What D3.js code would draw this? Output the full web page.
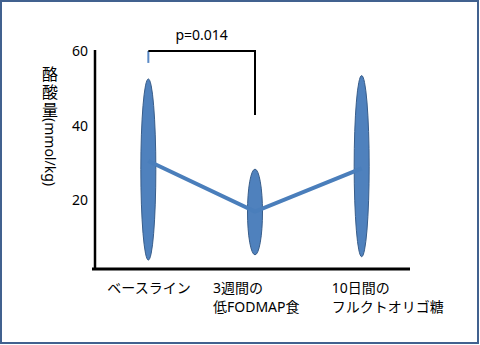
<!DOCTYPE html>
<html>
<head>
<meta charset="utf-8">
<script src="https://cdnjs.cloudflare.com/ajax/libs/d3/7.8.5/d3.min.js"></script>
<style>
body { margin: 0; background: #fff; }
text { font-family: "Noto Sans", "Noto Sans CJK JP", sans-serif; fill: #000; }
</style>
</head>
<body>
<script>
var w = 480;
var h = 345;

// data (mmol/kg)
var categories = ["base", "lowfodmap", "fos"];
var catLabels = [["ベースライン"], ["3週間の", "低FODMAP食"], ["10日間の", "フルクトオリゴ糖"]];
var means = [30.5, 16.9, 28.5];
var highs = [52.5, 28.3, 53.4];
var lows = [3.9, 5.3, 4.8];
var yTicks = [20, 40, 60];
var pLabel = "p=0.014";
var yTitleCjk = "酪酸量";
var yTitleUnit = "(mmol/kg)";

var blue = "#4f81bd";

var svg = d3.select("body")
    .append("svg")
    .attr("width", w)
    .attr("height", h);

// frame
svg.append("rect")
    .attr("x", 1).attr("y", 1)
    .attr("width", w - 3).attr("height", h - 3)
    .attr("fill", "none")
    .attr("stroke", "#41618f")
    .attr("stroke-width", 2);

var x = d3.scalePoint()
    .domain(categories)
    .range([95, 415])
    .padding(0.5);

var y = d3.scaleLinear()
    .domain([1.5, 60])
    .range([269, 51]);

// y axis
var yAxis = svg.append("g")
    .attr("transform", "translate(95,0)")
    .call(d3.axisLeft(y).tickValues(yTicks).tickSize(0).tickPadding(7));
yAxis.select(".domain")
    .attr("stroke", "#000")
    .attr("stroke-width", 2.5)
    .attr("d", "M0," + (y.range()[0] + 1) + "V" + (y.range()[1] - 1));
yAxis.selectAll("text")
    .style("font-size", "14px")
    .attr("font-family", null);

// x axis line
svg.append("line")
    .attr("x1", 92).attr("x2", 410)
    .attr("y1", y(1.5)).attr("y2", y(1.5))
    .attr("stroke", "#000")
    .attr("stroke-width", 3);

// y title: upright kanji stacked in one text, then the unit turned sideways
var yt = svg.append("g").attr("transform", "translate(50,0)");
yt.append("text")
    .attr("text-anchor", "middle")
    .attr("fill", "#222")
    .style("font-size", "16px")
    .selectAll("tspan")
    .data(yTitleCjk.split(""))
    .enter()
    .append("tspan")
    .attr("x", 0)
    .attr("y", function(d, i){ return 80 + i * 18; })
    .text(function(d){ return d; });
yt.append("text")
    .attr("transform", "translate(0,118) rotate(90)")
    .attr("dominant-baseline", "central")
    .style("font-size", "14px")
    .text(yTitleUnit);

// ellipses for ranges
svg.selectAll("ellipse")
    .data(categories)
    .enter()
    .append("ellipse")
    .attr("cx", function(d){ return x(d); })
    .attr("cy", function(d, i){ return (y(highs[i]) + y(lows[i])) / 2; })
    .attr("rx", 7.5)
    .attr("ry", function(d, i){ return (y(lows[i]) - y(highs[i])) / 2; })
    .attr("fill", blue)
    .attr("stroke", "#385d8a")
    .attr("stroke-width", 1);

// mean line
var line = d3.line()
    .x(function(d, i){ return x(categories[i]); })
    .y(function(d){ return y(d); });

svg.append("path")
    .datum(means)
    .attr("d", line)
    .attr("fill", "none")
    .attr("stroke", "#4a7ebb")
    .attr("stroke-width", 4);

// significance bracket
var bx0 = x(categories[0]), bx1 = x(categories[1]);
svg.append("line")
    .attr("x1", bx0).attr("x2", bx0)
    .attr("y1", y(60)).attr("y2", y(56.8))
    .attr("stroke", "#5b8ac6").attr("stroke-width", 2);
svg.append("path")
    .attr("d", "M" + bx0 + "," + y(60) + "H" + bx1 + "V" + y(42.8))
    .attr("fill", "none")
    .attr("stroke", "#000")
    .attr("stroke-width", 2);
svg.append("text")
    .attr("x", (bx0 + bx1) / 2)
    .attr("y", 40)
    .attr("text-anchor", "middle")
    .style("font-size", "14px")
    .text(pLabel);

// category labels
var labelDx = [-41, -42, -30];
var cl = svg.selectAll(".cat")
    .data(categories)
    .enter()
    .append("text")
    .attr("class", "cat")
    .style("font-size", "14px")
    .attr("transform", function(d, i){ return "translate(" + (x(d) + labelDx[i]) + ",293)"; });
cl.selectAll("tspan")
    .data(function(d, i){ return catLabels[i]; })
    .enter()
    .append("tspan")
    .attr("x", 0)
    .attr("y", function(d, j){ return j * 19; })
    .text(function(d){ return d; });
</script>
</body>
</html>
